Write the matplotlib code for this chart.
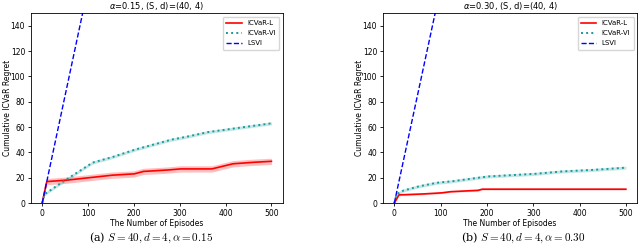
import numpy as np
import matplotlib.pyplot as plt

# panel (a): alpha = 0.15
ep_a_l = [0, 10, 50, 100, 150, 200, 220, 270, 300, 370, 415, 450, 500]
icvar_l_a = [0, 17, 18, 20, 22, 23, 25, 26, 27, 27, 31, 32, 33]
band_l_a = [0, 2.5, 2.5, 2.5, 2.5, 2.5, 2.5, 2.5, 2.5, 2.5, 2.5, 2.5, 2.5]
ep_a_vi = [0, 5, 25, 50, 80, 110, 150, 200, 230, 280, 310, 360, 400, 440, 500]
icvar_vi_a = [0, 7, 12, 18, 25, 32, 36, 42, 45, 50, 52, 56, 58, 60, 63]

# panel (b): alpha = 0.30
ep_b_l = [0, 10, 50, 100, 120, 180, 190, 300, 400, 500]
icvar_l_b = [0, 6.5, 7, 8, 9, 10, 11, 11, 11, 11]
band_l_b = [0, 0.6, 0.6, 0.6, 0.6, 0.6, 0.6, 0.6, 0.6, 0.6]
ep_b_vi = [0, 5, 20, 50, 90, 120, 180, 200, 250, 300, 360, 420, 500]
icvar_vi_b = [0, 7, 10, 13, 16, 17, 20, 21, 22, 23, 25, 26, 28]

lsvi_slope = 1.7  # LSVI regret per episode
episodes = np.arange(0, 501)

panels = [
    ("0.15", ep_a_l, icvar_l_a, band_l_a, ep_a_vi, icvar_vi_a, "(a) $S=40, d=4, \\alpha=0.15$"),
    ("0.30", ep_b_l, icvar_l_b, band_l_b, ep_b_vi, icvar_vi_b, "(b) $S=40, d=4, \\alpha=0.30$"),
]

fig = plt.figure(figsize=(6.4, 2.48), dpi=100)
lefts = [0.048, 0.598]
widths = [0.394, 0.398]
centers = [0.236, 0.817]

for i, (alpha, xl, yl, bl, xv, yv, cap) in enumerate(panels):
    ax = fig.add_axes([lefts[i], 0.181, widths[i], 0.766])
    l = np.interp(episodes, xl, yl)
    lb = np.interp(episodes, xl, bl)
    v = np.interp(episodes, xv, yv)
    ax.plot(episodes, l, color='red', lw=1.2, label='ICVaR-L')
    ax.fill_between(episodes, l - lb, l + lb, color='red', alpha=0.25, lw=0)
    ax.plot(episodes, v, color='#1a9a9a', lw=1.4, ls=':', label='ICVaR-VI')
    ax.fill_between(episodes, v - 1.2, v + 1.2, color='#40b0b0', alpha=0.3, lw=0)
    ax.plot(episodes, lsvi_slope * episodes, color='blue', lw=1.0, ls='--', label='LSVI')
    ax.set_ylim(0, 150)
    ax.set_xticks([0, 100, 200, 300, 400, 500])
    ax.set_yticks([0, 20, 40, 60, 80, 100, 120, 140])
    ax.tick_params(labelsize=5.5, length=2.5, width=0.6, pad=1.5)
    for s in ax.spines.values():
        s.set_linewidth(0.6)
    ax.set_xlabel('The Number of Episodes', fontsize=5.5, labelpad=1)
    ax.set_ylabel('Cumulative ICVaR Regret', fontsize=5.5)
    ax.yaxis.set_label_coords(-0.075, 0.5)
    ax.set_title('$\\alpha$=' + alpha + ', (S, d)=(40, 4)', fontsize=6, pad=3)
    ax.legend(loc='upper right', fontsize=5, handlelength=2.2, borderpad=0.5, labelspacing=0.6)
    fig.text(centers[i], 0.03, cap, fontsize=8, ha='center', family='serif', math_fontfamily='cm')

fig.savefig('out.png', dpi=100)
